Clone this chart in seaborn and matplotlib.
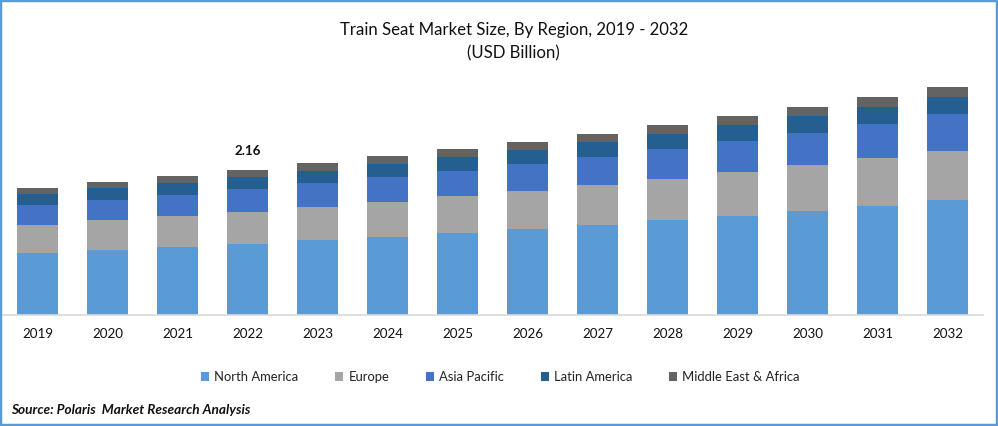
import numpy as np
import matplotlib
matplotlib.use("Agg")
import matplotlib.pyplot as plt
from matplotlib.patches import Rectangle
import seaborn as sns

years = ["2019", "2020", "2021", "2022", "2023", "2024", "2025",
         "2026", "2027", "2028", "2029", "2030", "2031", "2032"]
north_america = [0.924, 0.968, 1.013, 1.058, 1.117, 1.162, 1.222, 1.281, 1.341, 1.415, 1.475, 1.549, 1.624, 1.713]
europe = [0.417, 0.447, 0.462, 0.477, 0.492, 0.521, 0.551, 0.566, 0.596, 0.611, 0.655, 0.685, 0.715, 0.730]
asia_pacific = [0.298, 0.298, 0.313, 0.343, 0.358, 0.372, 0.372, 0.402, 0.417, 0.447, 0.462, 0.477, 0.507, 0.551]
latin_america = [0.164, 0.179, 0.179, 0.179, 0.179, 0.194, 0.209, 0.209, 0.223, 0.223, 0.238, 0.253, 0.253, 0.253]
middle_east_africa = [0.089, 0.089, 0.104, 0.104, 0.119, 0.119, 0.119, 0.119, 0.119, 0.134, 0.134, 0.134, 0.149, 0.149]

series = [("North America", north_america, "#5B9BD5"),
          ("Europe", europe, "#A5A5A5"),
          ("Asia Pacific", asia_pacific, "#4472C4"),
          ("Latin America", latin_america, "#255E91"),
          ("Middle East & Africa", middle_east_africa, "#636363")]

W, H = 998, 426
sns.set_theme(style="white")
plt.rcParams["font.family"] = ["Lato", "DejaVu Sans"]

fig = plt.figure(figsize=(W / 100, H / 100), dpi=100, facecolor="white")
ax = fig.add_axes([2.5 / W, 1 - 315 / H, 980 / W, 255 / H])

bottom = np.zeros(len(years))
for name, vals, color in series:
    sns.barplot(x=years, y=vals, color=color, saturation=1, width=0.586,
                bottom=bottom, label=name, ax=ax, legend=False, linewidth=0, errorbar=None)
    bottom = bottom + np.array(vals)

ax.set_xlim(-0.5, 13.5)
ax.set_ylim(0, 3.8)
ax.set_yticks([])
ax.set_ylabel("")
ax.patch.set_alpha(0)
sns.despine(ax=ax, left=True)
ax.spines["bottom"].set_color("#D9D9D9")
ax.spines["bottom"].set_linewidth(1.2)
ax.tick_params(axis="x", length=0, pad=9.5, labelsize=9.6, colors="#111111")

# label only on the base year
ax.annotate("2.16", (3, bottom[3]), xytext=(0, 9.6), textcoords="offset points",
            ha="center", va="bottom", fontsize=9.6, fontweight="bold", color="#111111")

fig.text(514 / W, 1 - 30 / H, "Train Seat Market Size, By Region, 2019 - 2032",
         ha="center", va="center", fontsize=12.1, color="#111111")
fig.text(513 / W, 1 - 53 / H, "(USD Billion)", ha="center", va="center",
         fontsize=12.1, color="#111111")

fs = 9.4
fpx = fs * 100 / 72
handles, labels = ax.get_legend_handles_labels()
fig.legend(handles, labels, loc="center", bbox_to_anchor=(500.5 / W, 1 - 377 / H),
           ncol=5, frameon=False, fontsize=fs, labelcolor="#222222",
           handlelength=8 / fpx, handleheight=8 / fpx, handletextpad=5 / fpx,
           columnspacing=37 / fpx, borderpad=0, borderaxespad=0)

fig.text(11 / W, 1 - 410 / H, "Source: Polaris  Market Research Analysis", ha="left", va="center",
         fontsize=9.8, fontweight="bold", fontstyle="italic", color="#111111")

# blue outer frame
fig.add_artist(Rectangle((0, 0), 1, 1, transform=fig.transFigure, fill=False,
                         edgecolor="#5B9BD5", linewidth=3.2))

fig.savefig("out.png", dpi=100)
plt.close(fig)
